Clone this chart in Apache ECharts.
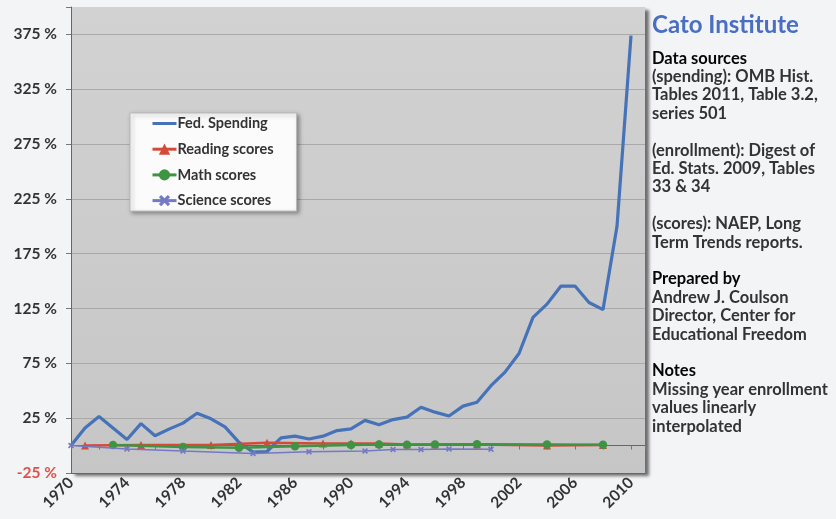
<!DOCTYPE html>
<html>
<head>
<meta charset="utf-8">
<title>Federal education spending vs. NAEP scores</title>
<script src="https://cdn.jsdelivr.net/npm/echarts@6/dist/echarts.min.js"></script>
<style>
    html, body { margin: 0; padding: 0; background: #f3f4f6; }
    #chart { width: 836px; height: 519px; }
</style>
</head>
<body>
<div id="chart"></div>
<script>
// ---- data: percent change since 1970 ----
var spendYears = [1970, 1971, 1972, 1973, 1974, 1975, 1976, 1977, 1978, 1979,
                  1980, 1981, 1982, 1983, 1984, 1985, 1986, 1987, 1988, 1989,
                  1990, 1991, 1992, 1993, 1994, 1995, 1996, 1997, 1998, 1999,
                  2000, 2001, 2002, 2003, 2004, 2005, 2006, 2007, 2008, 2009, 2010];
var spendValues = [0, 16, 26.5, 16, 5.5, 20, 9, 15, 20.5, 29.5,
                   24.4, 17, 3, -6, -5.4, 7, 8.6, 6, 8.6, 13.7,
                   15.3, 23, 19, 23.7, 26, 35, 30.5, 27, 36, 39.5,
                   54.6, 67, 84, 117, 129, 145.5, 145.5, 130.5, 124, 200, 374];

var readingYears = [1971, 1975, 1980, 1984, 1988, 1990, 1992, 1994, 1996, 1999, 2004, 2008];
var readingValues = [0, 0.5, 0.5, 2.5, 2, 2, 2, 1, 1, 1, 0, 0.5];

var mathYears = [1973, 1978, 1982, 1986, 1990, 1992, 1994, 1996, 1999, 2004, 2008];
var mathValues = [0.5, -1.3, -2, -0.7, 0.5, 1, 0.7, 1, 1.3, 1, 0.7];

var scienceYears = [1970, 1974, 1978, 1983, 1987, 1991, 1993, 1995, 1997, 2000];
var scienceValues = [0, -3, -4.9, -7.2, -5.6, -4.9, -3.6, -3.6, -3, -3.3];

var seriesNames = ['Fed. Spending', 'Reading scores', 'Math scores', 'Science scores'];

// side panel text
var noteLines = [
    '{h|Data sources}',
    '(spending): OMB Hist.',
    'Tables 2011, Table 3.2,',
    'series 501',
    '',
    '(enrollment): Digest of',
    'Ed. Stats. 2009, Tables',
    '33 & 34',
    '',
    '(scores): NAEP, Long',
    'Term Trends reports.',
    '',
    '{h|Prepared by}',
    'Andrew J. Coulson',
    'Director, Center for',
    'Educational Freedom',
    '',
    '{h|Notes}',
    'Missing year enrollment',
    'values linearly',
    'interpolated'
];

(function () {
    'use strict';

    var FONT = 'Lato, "Open Sans", sans-serif';

    function pairs(xs, ys) {
        return xs.map(function (x, i) { return [x, ys[i]]; });
    }

    // X-shaped marker for the science series
    var crossPath = 'path://M2,0L5,3L8,0L10,2L7,5L10,8L8,10L5,7L2,10L0,8L3,5L0,2Z';

    var chart = echarts.init(document.getElementById('chart'));

    chart.setOption({
        backgroundColor: '#f3f4f6',
        animation: false,
        grid: {
            left: 71, right: 191, top: 7, bottom: 46,
            show: true,
            borderWidth: 0,
            backgroundColor: new echarts.graphic.LinearGradient(0, 0, 0, 1, [
                { offset: 0, color: '#d2d2d3' },
                { offset: 1, color: '#c6c6c7' }
            ]),
            shadowColor: 'rgba(0,0,0,0.55)',
            shadowBlur: 3,
            shadowOffsetX: 4,
            shadowOffsetY: 3
        },
        legend: {
            // spending has no marker, so its legend symbol is hidden
            data: [
                { name: seriesNames[0], itemStyle: { opacity: 0 } },
                seriesNames[1], seriesNames[2], seriesNames[3]
            ],
            orient: 'vertical',
            left: 130, top: 113,
            padding: [3, 23, 3, 21],
            itemWidth: 24, itemHeight: 14, itemGap: 10.7,
            lineStyle: { width: 3 },
            backgroundColor: '#fbfbfb',
            borderColor: '#b8b8b8', borderWidth: 1,
            shadowColor: 'rgba(0,0,0,0.35)', shadowBlur: 4,
            shadowOffsetX: 2, shadowOffsetY: 2,
            textStyle: {
                fontFamily: FONT, fontWeight: 'bold', fontSize: 14.5, lineHeight: 14,
                color: '#333', padding: [0, 0, 0, -4]
            }
        },
        xAxis: {
            type: 'value',
            min: 1970, max: 2011, interval: 2,
            axisLine: { show: true, lineStyle: { color: '#666', width: 1 } },
            axisTick: { show: true, length: 4, lineStyle: { color: '#777' } },
            splitLine: { show: false },
            axisLabel: {
                rotate: 45, margin: 7,
                fontFamily: FONT, fontWeight: 'bold', fontSize: 15.5, color: '#333',
                formatter: function (v) { return (v - 1970) % 4 === 0 ? String(v) : ''; }
            }
        },
        yAxis: {
            type: 'value',
            min: -25, max: 400, interval: 50,
            axisLine: { show: true, lineStyle: { color: '#666', width: 1 } },
            axisTick: { show: true, length: 5, lineStyle: { color: '#777' } },
            splitLine: {
                show: true,
                lineStyle: {
                    color: ['#666', '#a9a9aa', '#a9a9aa', '#a9a9aa', '#a9a9aa',
                            '#a9a9aa', '#a9a9aa', '#a9a9aa', '#a9a9aa', 'rgba(0,0,0,0)'],
                    width: 1
                }
            },
            axisLabel: {
                margin: 14,
                fontFamily: FONT, fontWeight: 'bold', fontSize: 15.5,
                color: function (v) { return Number(v) < 0 ? '#e0504a' : '#333'; },
                formatter: function (v) { return v === 400 ? '' : v + ' %'; }
            }
        },
        series: [
            {
                name: seriesNames[0], type: 'line',
                data: pairs(spendYears, spendValues),
                symbol: 'none',
                lineStyle: { color: '#4672b8', width: 3.2 },
                itemStyle: { color: '#4672b8' },
                z: 2
            },
            {
                name: seriesNames[1], type: 'line',
                data: pairs(readingYears, readingValues),
                symbol: 'triangle', symbolSize: 8,
                lineStyle: { color: '#d44a3a', width: 2.5 },
                itemStyle: { color: '#d44a3a' },
                z: 3
            },
            {
                name: seriesNames[2], type: 'line',
                data: pairs(mathYears, mathValues),
                symbol: 'circle', symbolSize: 8.5,
                lineStyle: { color: '#3f9443', width: 2.5 },
                itemStyle: { color: '#3f9443' },
                z: 4
            },
            {
                name: seriesNames[3], type: 'line',
                data: pairs(scienceYears, scienceValues),
                symbol: crossPath, symbolSize: 6,
                lineStyle: { color: '#7479c4', width: 1.5 },
                itemStyle: { color: '#7479c4' },
                z: 5
            }
        ],
        graphic: [
            {
                type: 'text', left: 652, top: 13,
                style: {
                    text: 'Cato Institute',
                    font: 'bold 24px ' + FONT,
                    fill: '#4a6fc2'
                }
            },
            {
                type: 'text', left: 652, top: 49,
                style: {
                    text: noteLines.join('\n'),
                    font: 'bold 16.5px ' + FONT,
                    fill: '#333',
                    lineHeight: 18.4,
                    rich: {
                        h: { fontFamily: FONT, fontWeight: 'bold', fontSize: 16.5, fill: '#050505', lineHeight: 18.4 }
                    }
                }
            }
        ]
    });

    window.addEventListener('resize', function () { chart.resize(); });
})();
</script>
</body>
</html>
